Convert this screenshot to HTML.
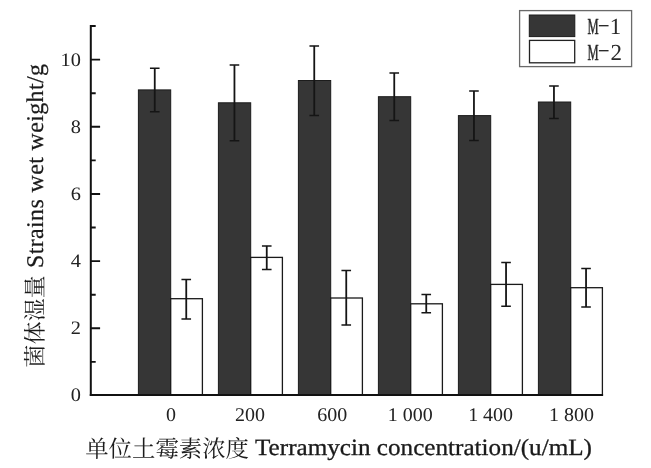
<!DOCTYPE html>
<html><head><meta charset="utf-8"><title>Chart</title>
<style>html,body{margin:0;padding:0;background:#fff}body{width:651px;height:468px;overflow:hidden;font-family:"Liberation Serif",serif}svg{display:block;will-change:transform;filter:grayscale(1)}</style>
</head><body>
<svg width="651" height="468" viewBox="0 0 651 468" text-rendering="geometricPrecision">
<rect width="651" height="468" fill="#fff"/>
<rect x="138.40" y="89.90" width="32.30" height="305.10" fill="#363636" stroke="#1c1c1c" stroke-width="1"/>
<rect x="170.70" y="298.70" width="31.70" height="96.30" fill="#fff" stroke="#1a1a1a" stroke-width="1.3"/>
<rect x="218.40" y="102.80" width="32.30" height="292.20" fill="#363636" stroke="#1c1c1c" stroke-width="1"/>
<rect x="250.70" y="257.40" width="31.70" height="137.60" fill="#fff" stroke="#1a1a1a" stroke-width="1.3"/>
<rect x="298.40" y="80.50" width="32.30" height="314.50" fill="#363636" stroke="#1c1c1c" stroke-width="1"/>
<rect x="330.70" y="298.00" width="31.70" height="97.00" fill="#fff" stroke="#1a1a1a" stroke-width="1.3"/>
<rect x="378.40" y="96.70" width="32.30" height="298.30" fill="#363636" stroke="#1c1c1c" stroke-width="1"/>
<rect x="410.70" y="303.80" width="31.70" height="91.20" fill="#fff" stroke="#1a1a1a" stroke-width="1.3"/>
<rect x="458.40" y="115.60" width="32.30" height="279.40" fill="#363636" stroke="#1c1c1c" stroke-width="1"/>
<rect x="490.70" y="284.40" width="31.70" height="110.60" fill="#fff" stroke="#1a1a1a" stroke-width="1.3"/>
<rect x="538.40" y="102.00" width="32.30" height="293.00" fill="#363636" stroke="#1c1c1c" stroke-width="1"/>
<rect x="570.70" y="287.70" width="31.70" height="107.30" fill="#fff" stroke="#1a1a1a" stroke-width="1.3"/>
<g stroke="#151515" fill="none">
<path stroke-width="1.8" d="M154.75 68.2V111.8"/><path stroke-width="1.5" d="M149.95 68.2H159.55M149.95 111.8H159.55"/>
<path stroke-width="1.8" d="M234.45 65.1V140.8"/><path stroke-width="1.5" d="M229.65 65.1H239.25M229.65 140.8H239.25"/>
<path stroke-width="1.8" d="M314.25 45.9V115.6"/><path stroke-width="1.5" d="M309.45 45.9H319.05M309.45 115.6H319.05"/>
<path stroke-width="1.8" d="M394.25 73.0V120.5"/><path stroke-width="1.5" d="M389.45 73.0H399.05M389.45 120.5H399.05"/>
<path stroke-width="1.8" d="M473.95 91.0V140.5"/><path stroke-width="1.5" d="M469.15 91.0H478.75M469.15 140.5H478.75"/>
<path stroke-width="1.8" d="M553.95 85.9V118.5"/><path stroke-width="1.5" d="M549.15 85.9H558.75M549.15 118.5H558.75"/>
<path stroke-width="1.8" d="M186.25 279.5V319.0"/><path stroke-width="1.5" d="M181.45 279.5H191.05M181.45 319.0H191.05"/>
<path stroke-width="1.8" d="M266.75 245.9V269.5"/><path stroke-width="1.5" d="M261.95 245.9H271.55M261.95 269.5H271.55"/>
<path stroke-width="1.8" d="M346.25 270.5V325.1"/><path stroke-width="1.5" d="M341.45 270.5H351.05M341.45 325.1H351.05"/>
<path stroke-width="1.8" d="M426.25 294.6V312.8"/><path stroke-width="1.5" d="M421.45 294.6H431.05M421.45 312.8H431.05"/>
<path stroke-width="1.8" d="M506.05 262.6V306.2"/><path stroke-width="1.5" d="M501.25 262.6H510.85M501.25 306.2H510.85"/>
<path stroke-width="1.8" d="M586.05 268.5V306.9"/><path stroke-width="1.5" d="M581.25 268.5H590.85M581.25 306.9H590.85"/>
</g>
<g stroke="#111" fill="none">
<path stroke-width="2.0" d="M90.8 25.1V396.10"/>
<path stroke-width="2.2" d="M89.80 395.0H603.1"/>
<path stroke-width="1.9" d="M90.8 361.91h4.9M90.8 328.32h9.3M90.8 294.73h4.9M90.8 261.14h9.3M90.8 227.55h4.9M90.8 193.96h9.3M90.8 160.37h4.9M90.8 126.78h9.3M90.8 93.19h4.9M90.8 59.60h9.3M90.8 26.01h4.9"/>
</g>
<g font-family="Liberation Serif, serif" font-size="19" fill="#222" text-anchor="end">
<text transform="translate(80.8 401.40) scale(1.07 1)">0</text>
<text transform="translate(80.8 334.22) scale(1.07 1)">2</text>
<text transform="translate(80.8 267.04) scale(1.07 1)">4</text>
<text transform="translate(80.8 199.86) scale(1.07 1)">6</text>
<text transform="translate(80.8 132.68) scale(1.07 1)">8</text>
<text transform="translate(80.8 65.50) scale(1.07 1)">10</text>
</g>
<g font-family="Liberation Serif, serif" font-size="19.4" fill="#222" text-anchor="middle">
<text transform="translate(171.0 421.2) scale(1.03 1)">0</text>
<text transform="translate(250.0 421.2) scale(1.03 1)">200</text>
<text transform="translate(332.3 421.2) scale(1.03 1)">600</text>
<text transform="translate(410.2 421.2) scale(1.03 1)">1 000</text>
<text transform="translate(490.6 421.2) scale(1.03 1)">1 400</text>
<text transform="translate(571.5 421.2) scale(1.03 1)">1 800</text>
</g>
<text x="85.2" y="456.8" font-family="'Liberation Serif', 'Noto Serif CJK SC', serif" font-size="23.4" fill="#1c1c1c" textLength="163.8" lengthAdjust="spacing">单位土霉素浓度</text>
<text x="255" y="454.6" font-family="Liberation Serif, serif" font-size="23.4" fill="#1a1a1a" stroke="#1a1a1a" stroke-width="0.3" textLength="337" lengthAdjust="spacingAndGlyphs">Terramycin concentration/(u/mL)</text>
<g transform="translate(43.0 367.4) rotate(-90)">
<text x="0" y="0" font-family="'Liberation Serif', 'Noto Serif CJK SC', serif" font-size="22.8" fill="#1c1c1c" textLength="92" lengthAdjust="spacing">菌体湿量</text>
<text x="99.4" y="-0.3" font-family="Liberation Serif, serif" font-size="24" fill="#1a1a1a" stroke="#1a1a1a" stroke-width="0.2" textLength="204" lengthAdjust="spacing">Strains wet weight/g</text>
</g>
<rect x="519.6" y="10.6" width="112" height="56" fill="#fff" stroke="#6a6a6a" stroke-width="1.3"/>
<rect x="529.3" y="15" width="45.5" height="21.6" fill="#363636" stroke="#1c1c1c" stroke-width="1"/>
<rect x="529.5" y="40.4" width="45.2" height="22.4" fill="#fff" stroke="#222" stroke-width="1.3"/>
<g font-family="Liberation Serif, serif" font-size="23" fill="#2a2a2a">
<text transform="translate(587.5 34.4) scale(0.545 1.0)" stroke="#2a2a2a" stroke-width="0.5">M</text>
<text transform="translate(597.4 29.6) scale(1.62 0.8)">-</text>
<text transform="translate(609.7 34.4) scale(1.0 1.0)">1</text>
<text transform="translate(587.5 59.6) scale(0.545 1.0)" stroke="#2a2a2a" stroke-width="0.5">M</text>
<text transform="translate(597.4 54.8) scale(1.62 0.8)">-</text>
<text transform="translate(610.5 59.6) scale(1.0 1.0)">2</text>
</g>
</svg>
</body></html>
